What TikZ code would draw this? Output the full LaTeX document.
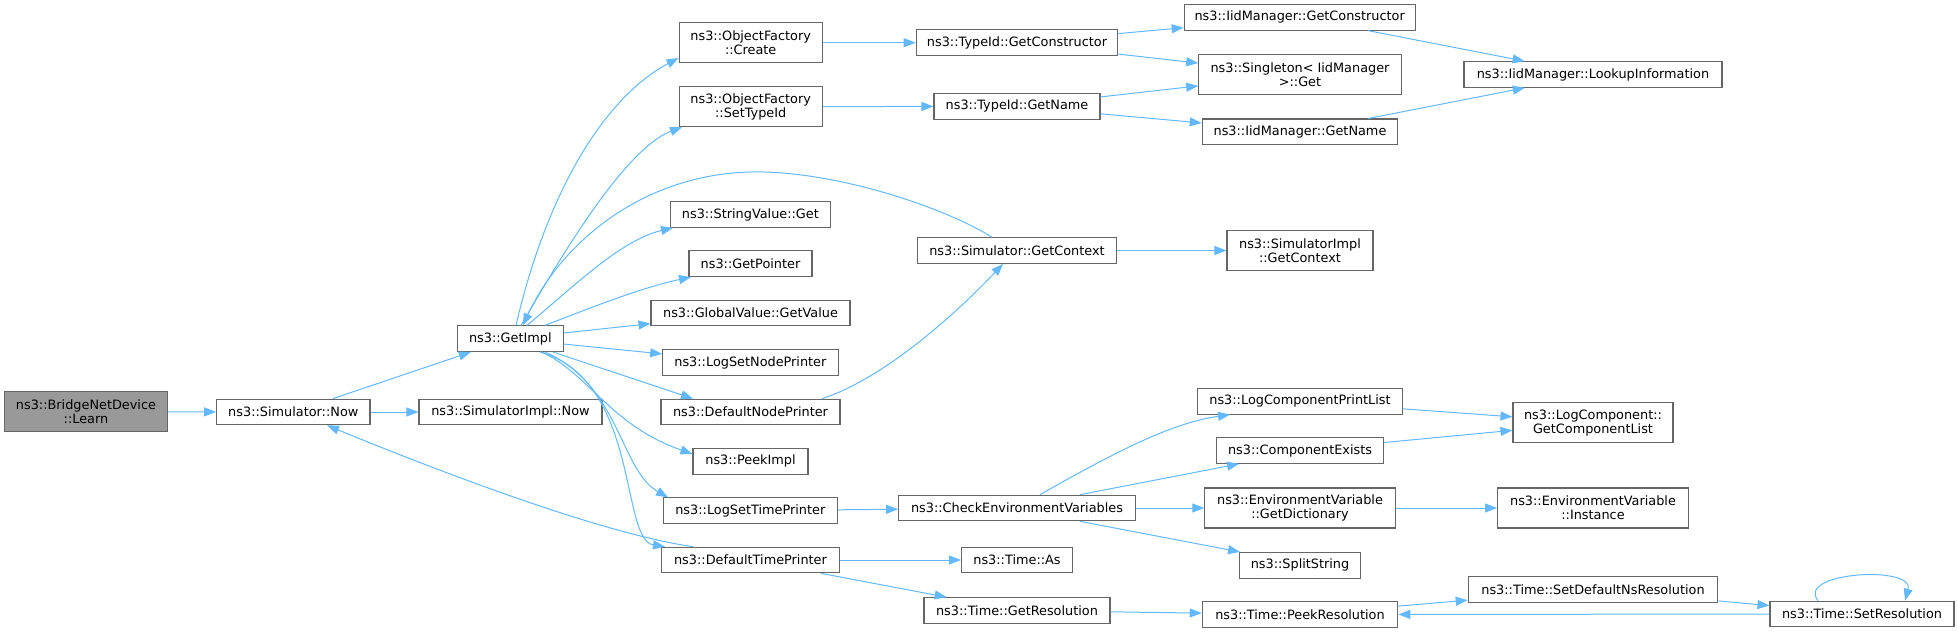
\documentclass[tikz,border=0pt]{standalone}
\usepackage{fontspec}
\setmainfont{DejaVu Sans}
\usetikzlibrary{arrows.meta}
\definecolor{edgec}{HTML}{63B8FF}
\definecolor{boxc}{HTML}{666666}
\definecolor{rootc}{HTML}{999999}
\newcommand\nodefnt{\fontsize{12.85}{14}\selectfont}
\tikzset{
  box/.style={draw=boxc, fill=white, line width=1.1pt, inner sep=0pt, font=\nodefnt, align=center, minimum height=25.6pt},
  box2/.style={box, minimum height=40pt},
  e/.style={draw=edgec, line width=1pt, -{Triangle[length=12pt,width=9pt]}}
}
\begin{document}
\begin{tikzpicture}[x=1pt,y=-1pt]
\useasboundingbox (0,0) rectangle (1957,632);
% rank 0-2
\node[box2, fill=rootc, minimum width=162.6pt] (learn) at (86,411.7) {ns3::BridgeNetDevice\\::Learn};
\node[box, minimum width=153.3pt] (simnow) at (293.3,412) {ns3::Simulator::Now};
\node[box, minimum width=183pt] (simimplnow) at (510.5,412) {ns3::SimulatorImpl::Now};
\node[box, minimum width=106pt] (getimpl) at (510.3,338.7) {ns3::GetImpl};
% rank 3
\node[box2, minimum width=143.3pt] (create) at (750.7,42.7) {ns3::ObjectFactory\\::Create};
\node[box2, minimum width=143.3pt] (settypeid) at (750.7,106.7) {ns3::ObjectFactory\\::SetTypeId};
\node[box, minimum width=159.3pt] (stringvalue) at (750.4,214.5) {ns3::StringValue::Get};
\node[box, minimum width=123pt] (getpointer) at (750.5,263.7) {ns3::GetPointer};
\node[box, minimum width=199pt] (globalvalue) at (750.5,313) {ns3::GlobalValue::GetValue};
\node[box, minimum width=175.3pt] (lognode) at (750.4,362.7) {ns3::LogSetNodePrinter};
\node[box, minimum width=179pt] (dnp) at (750.5,412) {ns3::DefaultNodePrinter};
\node[box, minimum width=115pt] (peekimpl) at (750.5,461.3) {ns3::PeekImpl};
\node[box, minimum width=174pt] (lstp) at (750.3,510.7) {ns3::LogSetTimePrinter};
\node[box, minimum width=177.6pt] (dtp) at (750.5,560) {ns3::DefaultTimePrinter};
% rank 4
\node[box, minimum width=201.5pt] (tgetctor) at (1017,42.7) {ns3::TypeId::GetConstructor};
\node[box, minimum width=166pt] (tgetname) at (1017,106.3) {ns3::TypeId::GetName};
\node[box, minimum width=199pt] (simgetctx) at (1017,250.5) {ns3::Simulator::GetContext};
\node[box, minimum width=236.8pt] (checkenv) at (1017,508) {ns3::CheckEnvironmentVariables};
\node[box, minimum width=111pt] (timeas) at (1017,560) {ns3::Time::As};
\node[box, minimum width=186pt] (getres) at (1017,610.5) {ns3::Time::GetResolution};
% rank 5
\node[box, minimum width=231pt] (iidctor) at (1299.7,17.3) {ns3::IidManager::GetConstructor};
\node[box2, minimum width=202.5pt] (singleton) at (1300,74.5) {ns3::Singleton< IidManager\\ >::Get};
\node[box, minimum width=195.5pt] (iidname) at (1300,131.8) {ns3::IidManager::GetName};
\node[box2, minimum width=146pt] (simimplctx) at (1300,250.5) {ns3::SimulatorImpl\\::GetContext};
\node[box, minimum width=204.6pt] (logcpl) at (1300,401.3) {ns3::LogComponentPrintList};
\node[box, minimum width=166.8pt] (compexists) at (1300,450.5) {ns3::ComponentExists};
\node[box2, minimum width=190.4pt] (getdict) at (1300,508) {ns3::EnvironmentVariable\\::GetDictionary};
\node[box, minimum width=120.4pt] (splitstring) at (1300,565.3) {ns3::SplitString};
\node[box, minimum width=195.5pt] (peekres) at (1300,614.5) {ns3::Time::PeekResolution};
% rank 6-7
\node[box, minimum width=258pt] (lookup) at (1593,74.5) {ns3::IidManager::LookupInformation};
\node[box2, minimum width=160pt] (getcomplist) at (1593,422.7) {ns3::LogComponent::\\GetComponentList};
\node[box2, minimum width=190.7pt] (instance) at (1593,508) {ns3::EnvironmentVariable\\::Instance};
\node[box, minimum width=249.6pt] (setdefns) at (1593,589.5) {ns3::Time::SetDefaultNsResolution};
\node[box, minimum width=184pt] (setres) at (1862,614) {ns3::Time::SetResolution};
% edges
\draw[e] (learn) -- (simnow);
\draw[e] (simnow) -- (simimplnow);
\draw[e] (simnow) -- (getimpl);
\draw[e] (getimpl.north -| 516,0) .. controls (545,200) and (600,100) .. (create.west |- 0,58);
\draw[e] (getimpl.north -| 521,0) .. controls (545,285) and (620,150) .. (settypeid.south -| 682,0);
\draw[e] (simgetctx.north -| 992,0) .. controls (940,205) and (830,170) .. (750,172) .. controls (640,175) and (560,245) .. (getimpl.north -| 523,0);
\draw[e] (getimpl.north -| 527,0) .. controls (570,290) and (620,240) .. (stringvalue.south -| 673,0);
\draw[e] (getimpl.north -| 545,0) .. controls (590,308) and (640,288) .. (getpointer.south -| 691,0);
\draw[e] (getimpl) -- (globalvalue);
\draw[e] (getimpl) -- (lognode);
\draw[e] (getimpl.south -| 553,0) -- (dnp.north -| 693,0);
\draw[e] (getimpl.south -| 542,0) .. controls (590,375) and (610,425) .. (peekimpl.west |- 0,454);
\draw[e] (getimpl.south -| 545,0) .. controls (620,385) and (620,470) .. (lstp.north -| 668,0);
\draw[e] (getimpl.south -| 540,0) .. controls (640,380) and (620,540) .. (dtp.north -| 665,0);
\draw[e] (dtp.north -| 693,0) .. controls (610,535) and (460,480) .. (simnow.south -| 327,0);
\draw[e] (dnp.north -| 822,0) .. controls (880,380) and (950,320) .. (simgetctx.south -| 1003,0);
\draw[e] (create) -- (tgetctor);
\draw[e] (settypeid) -- (tgetname);
\draw[e] (tgetctor) -- (iidctor);
\draw[e] (tgetctor) -- (singleton);
\draw[e] (tgetname) -- (singleton);
\draw[e] (tgetname) -- (iidname);
\draw[e] (iidctor) -- (lookup);
\draw[e] (iidname) -- (lookup);
\draw[e] (simgetctx) -- (simimplctx);
\draw[e] (lstp) -- (checkenv);
\draw[e] (checkenv.north -| 1040,0) .. controls (1110,455) and (1170,423) .. (logcpl.south -| 1230,0);
\draw[e] (checkenv.north -| 1080,0) -- (compexists.south -| 1239,0);
\draw[e] (checkenv) -- (getdict);
\draw[e] (checkenv.south -| 1080,0) -- (splitstring.north -| 1240,0);
\draw[e] (logcpl) -- (getcomplist);
\draw[e] (compexists) -- (getcomplist);
\draw[e] (getdict) -- (instance);
\draw[e] (dtp) -- (timeas);
\draw[e] (dtp) -- (getres);
\draw[e] (getres) -- (peekres);
\draw[e] (peekres) -- (setdefns);
\draw[e] (setdefns) -- (setres);
\draw[e] (setres) -- (peekres);
\draw[e] (setres.north -| 1818,0) .. controls (1795,572) and (1915,565) .. (setres.north -| 1905,0);
\end{tikzpicture}
\end{document}
